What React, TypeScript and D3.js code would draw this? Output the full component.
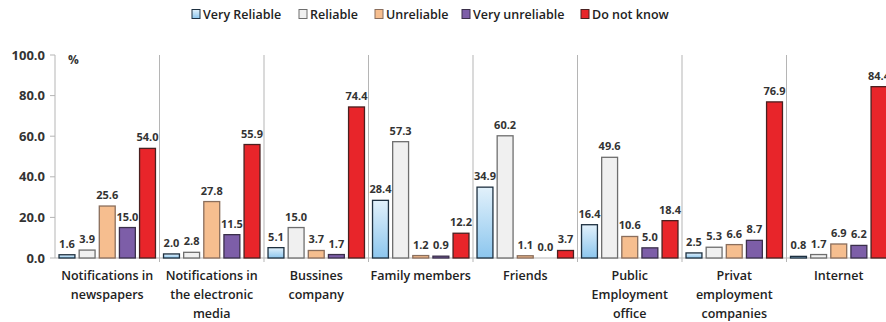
import React from "react";
import * as d3 from "d3";

const categories: string[][] = [
  ["Notifications in", "newspapers"],
  ["Notifications in", "the electronic", "media"],
  ["Bussines", "company"],
  ["Family members"],
  ["Friends"],
  ["Public", "Employment", "office"],
  ["Privat", "employment", "companies"],
  ["Internet"],
];
const seriesNames = ["Very Reliable", "Reliable", "Unreliable", "Very unreliable", "Do not know"];
const veryReliable = [1.6, 2.0, 5.1, 28.4, 34.9, 16.4, 2.5, 0.8];
const reliable = [3.9, 2.8, 15.0, 57.3, 60.2, 49.6, 5.3, 1.7];
const unreliable = [25.6, 27.8, 3.7, 1.2, 1.1, 10.6, 6.6, 6.9];
const veryUnreliable = [15.0, 11.5, 1.7, 0.9, 0.0, 5.0, 8.7, 6.2];
const doNotKnow = [54.0, 55.9, 74.4, 12.2, 3.7, 18.4, 76.9, 84.4];
const yTicks = [0, 20, 40, 60, 80, 100];

const seriesValues = [veryReliable, reliable, unreliable, veryUnreliable, doNotKnow];
const fills = ["url(#blueGrad)", "#f0f0f0", "#f6be8f", "#7d5ea8", "#e8252a"];
const strokes = ["#1e3040", "#6e6e6e", "#8a6e5c", "#3a2f4a", "#4a2020"];
const legendX = [192, 299, 375, 462, 581];

export default function App() {
  const left = 55;
  const right = 891;
  const top = 55;
  const bottom = 258;
  const keys = categories.map((_, i) => String(i));
  const x0 = d3.scaleBand().domain(keys).range([left, right]).padding(0);
  const x1 = d3
    .scaleBand()
    .domain(seriesNames)
    .range([0, x0.bandwidth()])
    .paddingInner(0.21)
    .paddingOuter(0.2);
  const y = d3.scaleLinear().domain([0, 100]).range([bottom, top]);
  const font = "'Open Sans', 'DejaVu Sans', sans-serif";

  return (
    <svg
      width={886}
      height={322}
      style={{ position: "absolute", left: 0, top: 0, background: "#fff" }}
      fontFamily={font}
    >
      <defs>
        <linearGradient id="blueGrad" x1="0" y1="0" x2="0" y2="1">
          <stop offset="0%" stopColor="#e2f1fb" />
          <stop offset="100%" stopColor="#8cc6ee" />
        </linearGradient>
      </defs>
      {/* legend */}
      {seriesNames.map((s, i) => (
        <g key={s}>
          <rect
            x={legendX[i]}
            y={9.5}
            width={8}
            height={9}
            fill={fills[i]}
            stroke={strokes[i]}
            strokeWidth={1}
          />
          <text x={legendX[i] + 11} y={18.5} fontSize={12.5} fontWeight={600} fill="#222">
            {s}
          </text>
        </g>
      ))}
      {/* y axis */}
      <line x1={left} x2={left} y1={top} y2={bottom} stroke="#b5b5b5" />
      {yTicks.map((t) => (
        <g key={t}>
          <line x1={left - 5} x2={left} y1={y(t)} y2={y(t)} stroke="#b5b5b5" />
          <text
            x={45}
            y={y(t) + 4.5}
            textAnchor="end"
            fontSize={13}
            fontWeight={700}
            fill="#333"
          >
            {t.toFixed(1)}
          </text>
        </g>
      ))}
      <text x={68} y={64} fontSize={12} fontWeight={700} fill="#333">
        %
      </text>
      {/* separators */}
      {keys.map((k, i) => (
        <g key={"sep" + k}>
          {i > 0 && (
            <line x1={x0(k)!} x2={x0(k)!} y1={top} y2={bottom + 4} stroke="#b5b5b5" />
          )}
        </g>
      ))}
      <line x1={left} x2={right} y1={bottom} y2={bottom} stroke="#b5b5b5" />
      {/* bars */}
      {keys.map((k, gi) => (
        <g key={"g" + k} transform={`translate(${x0(k)},0)`}>
          {seriesNames.map((s, si) => {
            const v = seriesValues[si][gi];
            const bx = x1(s)!;
            const bw = x1.bandwidth();
            return (
              <g key={s}>
                {v > 0 && (
                  <rect
                    x={bx}
                    y={y(v)}
                    width={bw}
                    height={bottom - y(v)}
                    fill={fills[si]}
                    stroke={strokes[si]}
                    strokeWidth={1.3}
                  />
                )}
                <text
                  x={bx + bw / 2}
                  y={y(v) - 7}
                  textAnchor="middle"
                  fontSize={11}
                  fontWeight={700}
                  fill="#333"
                >
                  {v.toFixed(1)}
                </text>
              </g>
            );
          })}
          {categories[gi].map((line, li) => (
            <text
              key={li}
              x={x0.bandwidth() / 2}
              y={280 + li * 19}
              textAnchor="middle"
              fontSize={12.5}
              fontWeight={600}
              fill="#222"
            >
              {line}
            </text>
          ))}
        </g>
      ))}
    </svg>
  );
}
